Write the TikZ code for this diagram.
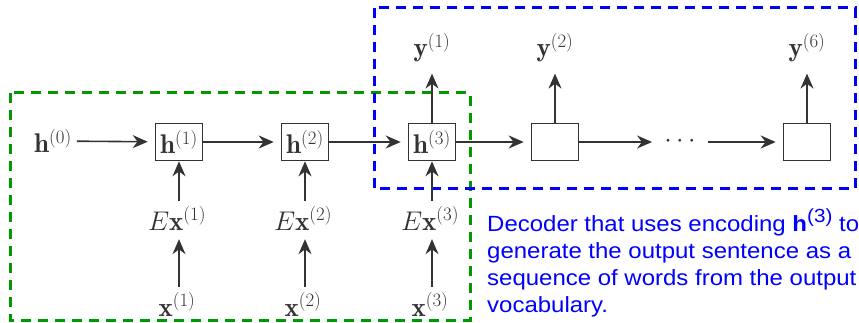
\documentclass[tikz,border=0pt]{standalone}
\usepackage{fix-cm}
\usepackage{fontspec}
\newfontfamily\notefont[FakeStretch=1.09]{Liberation Sans}
\usetikzlibrary{arrows.meta}
\definecolor{arr}{HTML}{333333}
\definecolor{grn}{HTML}{009900}
\definecolor{blu}{HTML}{0000FF}
\begin{document}
\begin{tikzpicture}[x=1pt,y=-1pt,
  lbl/.style={font=\fontsize{27}{31}\selectfont, inner sep=5pt, text=arr},
  cell/.style={draw=arr, line width=1.6pt, minimum width=47pt, minimum height=37pt, inner sep=1pt, font=\fontsize{27}{31}\selectfont, text=arr},
  conn/.style={draw=arr, line width=1.6pt, -{Stealth[length=15pt,width=13pt]}},
  frame/.style={line width=3pt, dash pattern=on 10pt off 7pt}]
\useasboundingbox (0,0) rectangle (859,323);

\draw[frame, draw=grn] (10,93) rectangle (470,320);
\draw[frame, draw=blu] (374,8) rectangle (855,189);

\node[lbl, anchor=base] (h0) at (53,153) {$\mathbf{h}^{(0)}$};
\node[cell] (h1) at (179,142) {$\mathbf{h}^{(1)}$};
\node[cell] (h2) at (305,142) {$\mathbf{h}^{(2)}$};
\node[cell] (h3) at (432,142) {$\mathbf{h}^{(3)}$};
\node[cell] (b4) at (555,142) {};
\node[lbl] (dots) at (680,142) {$\cdots$};
\node[cell] (b6) at (807,142) {};

\node[lbl, anchor=base] (y1) at (432,57) {$\mathbf{y}^{(1)}$};
\node[lbl, anchor=base] (y2) at (555,57) {$\mathbf{y}^{(2)}$};
\node[lbl, anchor=base] (y6) at (807,57) {$\mathbf{y}^{(6)}$};

\node[lbl, anchor=base] (e1) at (177,230) {$E\mathbf{x}^{(1)}$};
\node[lbl, anchor=base] (e2) at (303,230) {$E\mathbf{x}^{(2)}$};
\node[lbl, anchor=base] (e3) at (430,230) {$E\mathbf{x}^{(3)}$};

\node[lbl, anchor=base] (x1) at (177,316) {$\mathbf{x}^{(1)}$};
\node[lbl, anchor=base] (x2) at (303,316) {$\mathbf{x}^{(2)}$};
\node[lbl, anchor=base] (x3) at (430,316) {$\mathbf{x}^{(3)}$};

\draw[conn, shorten >=7pt] (h0) -- (h1);
\draw[conn, shorten >=7pt] (h1) -- (h2);
\draw[conn, shorten >=7pt] (h2) -- (h3);
\draw[conn, shorten >=7pt] (h3) -- (b4);
\draw[conn, shorten >=7pt] (b4) -- (dots);
\draw[conn, shorten <=7pt, shorten >=7pt] (dots) -- (b6);

\draw[conn, shorten >=6pt] (h3.north) -- (h3.north |- y1.south);
\draw[conn, shorten >=6pt] (b4.north) -- (b4.north |- y2.south);
\draw[conn, shorten >=6pt] (b6.north) -- (b6.north |- y6.south);

\draw[conn] (h1.south |- e1.north) -- (h1.south);
\draw[conn] (h2.south |- e2.north) -- (h2.south);
\draw[conn] (h3.south |- e3.north) -- (h3.south);
\draw[conn, shorten >=4pt] (h1.south |- x1.north) -- (h1.south |- e1.south);
\draw[conn, shorten >=4pt] (h2.south |- x2.north) -- (h2.south |- e2.south);
\draw[conn, shorten >=4pt] (h3.south |- x3.north) -- (h3.south |- e3.south);

\node[anchor=north west, align=left, text=blu, inner sep=0pt,
  font=\notefont\fontsize{22}{27}\selectfont] (note) at (487,208.5)
  {Decoder that uses encoding \textbf{h}\raisebox{9pt}{\fontsize{19}{19}\selectfont(3)} to\\
   generate the output sentence as a\\
   sequence of words from the output\\
   vocabulary.};
\end{tikzpicture}
\end{document}
